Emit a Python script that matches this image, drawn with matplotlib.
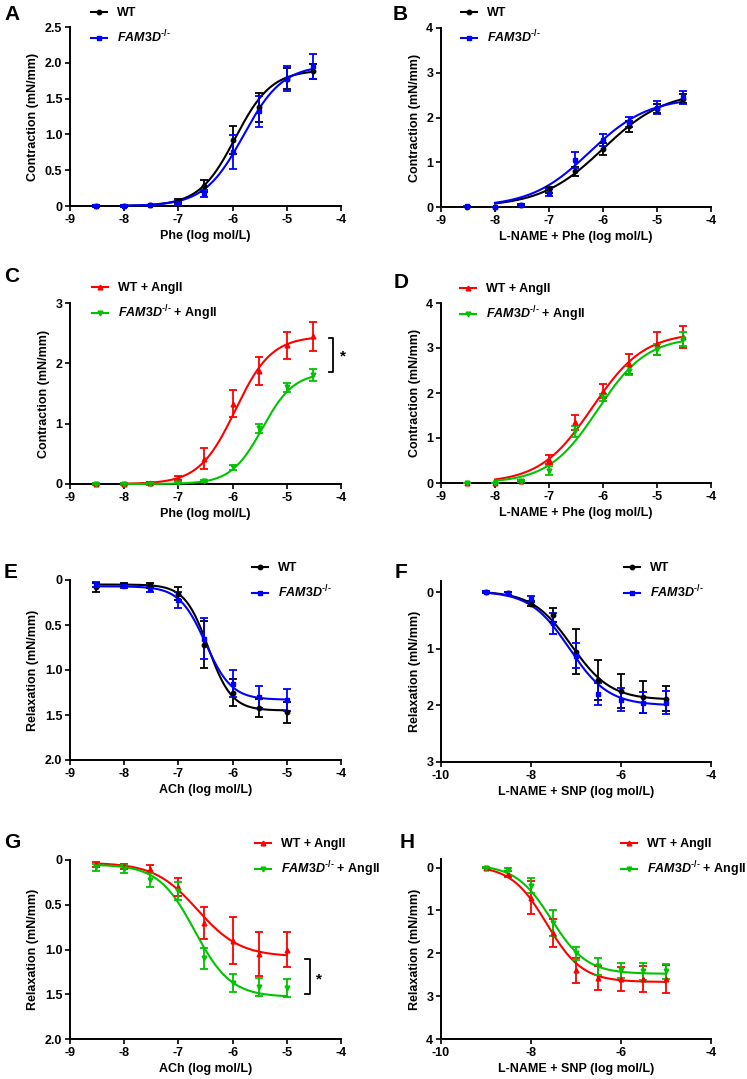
import numpy as np
import matplotlib
matplotlib.use("Agg")
import matplotlib.pyplot as plt
from matplotlib.lines import Line2D

plt.rcParams['font.family'] = ['Liberation Sans', 'DejaVu Sans']
plt.rcParams['font.weight'] = 'bold'
plt.rcParams['axes.labelweight'] = 'bold'
plt.rcParams['axes.unicode_minus'] = False
plt.rcParams['mathtext.fontset'] = 'custom'
plt.rcParams['mathtext.it'] = 'Liberation Sans:italic:bold'
plt.rcParams['mathtext.rm'] = 'Liberation Sans:bold'
plt.rcParams['mathtext.bf'] = 'Liberation Sans:bold'

# doses (log mol/L)
x_phe = [-8.52, -8, -7.52, -7, -6.52, -6, -5.52, -5, -4.52]
x_ach = [-8.52, -8, -7.52, -7, -6.52, -6, -5.52, -5]
x_snp = [-9, -8.52, -8, -7.52, -7, -6.52, -6, -5.52, -5]

# A: Phe
a_wt = [0, 0, 0.01, 0.07, 0.28, 0.92, 1.38, 1.78, 1.88]
a_wt_err = [0.01, 0.01, 0.01, 0.03, 0.08, 0.2, 0.2, 0.15, 0.1]
a_ko = [0, 0, 0.01, 0.04, 0.17, 0.75, 1.32, 1.78, 1.95]
a_ko_err = [0.01, 0.01, 0.01, 0.03, 0.05, 0.24, 0.22, 0.17, 0.17]
# B: L-NAME + Phe
b_wt = [0, 0, 0.05, 0.38, 0.8, 1.3, 1.8, 2.2, 2.42]
b_wt_err = [0.01, 0.01, 0.02, 0.07, 0.1, 0.13, 0.12, 0.1, 0.1]
b_ko = [0.02, 0, 0.05, 0.32, 1.05, 1.5, 1.9, 2.22, 2.45]
b_ko_err = [0.01, 0.01, 0.02, 0.08, 0.17, 0.13, 0.12, 0.15, 0.15]
# C: Phe, AngII
c_wt = [0, 0, 0.02, 0.1, 0.42, 1.33, 1.87, 2.3, 2.45]
c_wt_err = [0.01, 0.01, 0.01, 0.03, 0.17, 0.22, 0.23, 0.22, 0.24]
c_ko = [0, 0, 0, 0.02, 0.05, 0.28, 0.92, 1.6, 1.8]
c_ko_err = [0.01, 0.01, 0.01, 0.01, 0.02, 0.04, 0.08, 0.07, 0.1]
# D: L-NAME + Phe, AngII
d_wt = [0, 0, 0.05, 0.52, 1.35, 2.05, 2.65, 3.1, 3.25]
d_wt_err = [0.01, 0.01, 0.02, 0.1, 0.17, 0.15, 0.22, 0.25, 0.25]
d_ko = [0, 0, 0.05, 0.27, 1.15, 1.9, 2.5, 2.97, 3.2]
d_ko_err = [0.01, 0.01, 0.02, 0.1, 0.12, 0.08, 0.1, 0.12, 0.15]
# E: ACh
e_wt = [0.08, 0.05, 0.06, 0.15, 0.72, 1.25, 1.42, 1.47]
e_wt_err = [0.05, 0.02, 0.03, 0.07, 0.26, 0.15, 0.1, 0.12]
e_ko = [0.05, 0.07, 0.1, 0.22, 0.65, 1.15, 1.3, 1.33]
e_ko_err = [0.03, 0.02, 0.03, 0.09, 0.23, 0.15, 0.12, 0.12]
# F: L-NAME + SNP
f_wt = [0, 0.02, 0.2, 0.4, 1.05, 1.55, 1.75, 1.85, 1.88]
f_wt_err = [0.02, 0.02, 0.05, 0.12, 0.4, 0.35, 0.3, 0.28, 0.22]
f_ko = [0, 0.02, 0.12, 0.55, 1.12, 1.8, 1.9, 1.95, 1.95]
f_ko_err = [0.02, 0.02, 0.05, 0.18, 0.22, 0.2, 0.2, 0.18, 0.2]
# G: ACh, AngII
g_wt = [0.05, 0.07, 0.1, 0.3, 0.7, 0.9, 1.05, 1.0]
g_wt_err = [0.03, 0.03, 0.04, 0.1, 0.18, 0.26, 0.25, 0.19]
g_ko = [0.08, 0.1, 0.22, 0.35, 1.1, 1.37, 1.42, 1.43]
g_ko_err = [0.04, 0.04, 0.08, 0.1, 0.12, 0.1, 0.1, 0.1]
# H: L-NAME + SNP, AngII
h_wt = [0, 0.15, 0.7, 1.52, 2.4, 2.58, 2.6, 2.6, 2.6]
h_wt_err = [0.02, 0.08, 0.38, 0.33, 0.3, 0.28, 0.28, 0.3, 0.32]
h_ko = [0, 0.05, 0.42, 1.3, 2.0, 2.3, 2.4, 2.42, 2.42]
h_ko_err = [0.02, 0.03, 0.17, 0.3, 0.15, 0.2, 0.18, 0.2, 0.17]

# fitted curves: bottom, top, logEC50, hill
fit_a = [[0, 1.9, -5.95, 1.3], [0, 1.97, -5.8, 1.2]]
fit_b = [[0, 2.6, -6.0, 0.75], [0, 2.45, -6.25, 0.8]]
fit_c = [[0, 2.45, -5.95, 1.3], [0, 1.85, -5.45, 1.5]]
fit_d = [[0, 3.35, -6.2, 0.9], [0, 3.25, -6.1, 0.95]]
fit_e = [[0.05, 1.45, -6.45, 2.0], [0.07, 1.33, -6.5, 1.8]]
fit_f = [[-0.02, 1.9, -7.1, 1.0], [-0.02, 2.0, -7.15, 1.0]]
fit_g = [[0.03, 1.08, -6.65, 1.1], [0.05, 1.53, -6.7, 1.3]]
fit_h = [[-0.05, 2.67, -7.65, 1.1], [-0.07, 2.48, -7.55, 1.1]]

W, H = 747, 1079
fig = plt.figure(figsize=(W / 100, H / 100), dpi=100)

KO = "$\\mathit{FAM3D}^{\\mathit{\u2010/\u2010}}$"
styles_ctrl = [("WT", "#000000", "o", 3.2), (KO, "#0000FF", "s", 3.2)]
styles_ang = [("WT + AngII", "#FF0000", "^", 3.4), (KO + " + AngII", "#00C400", "v", 3.4)]


def hill(x, p):
    x = np.asarray(x)
    return p[0] + (p[1] - p[0]) / (1 + 10 ** ((p[2] - x) * p[3]))


def px_axes(left, top, right, bottom):
    return fig.add_axes([left / W, 1 - bottom / H, (right - left) / W, (bottom - top) / H])


def panel(rect, letter, letter_xy, x, data, fits, styles, xlim, xticks, ylim, yticks,
          ylabel, xlabel, curve_lim, legend_xy, ylab_dec=True):
    ax = px_axes(*rect)
    xs = np.linspace(curve_lim[0], curve_lim[1], 300)
    handles = []
    for (y, err), p, (lab, col, mk, ms) in zip(data, fits, styles):
        ax.plot(xs, hill(xs, p), color=col, lw=1.5, clip_on=False, zorder=3)
        ax.errorbar(x, y, yerr=err, fmt=mk, color=col, ms=ms, elinewidth=1.3,
                    capsize=2.6, capthick=1.3, clip_on=False, zorder=4)
        handles.append(Line2D([0], [0], color=col, lw=1.5, marker=mk, ms=ms))
    ax.set_xlim(*xlim)
    ax.set_ylim(*ylim)
    ax.set_xticks(xticks)
    ax.set_xticklabels([str(t) for t in xticks])
    ax.set_yticks(yticks)
    if ylab_dec:
        ax.set_yticklabels(["0" if t == 0 else "%.1f" % t for t in yticks])
    else:
        ax.set_yticklabels(["%d" % t for t in yticks])
    for s in ["top", "right"]:
        ax.spines[s].set_visible(False)
    for s in ["left", "bottom"]:
        ax.spines[s].set_linewidth(1.4)
    ax.tick_params(width=1.2, length=3.5, labelsize=9, pad=2)
    for t in ax.get_xticklabels() + ax.get_yticklabels():
        t.set_fontweight("bold")
    ax.set_ylabel(ylabel, fontsize=9, labelpad=4)
    ax.set_xlabel(xlabel, fontsize=9, labelpad=3)
    ax.legend(handles, [s[0] for s in styles], loc="upper left",
              bbox_to_anchor=(legend_xy[0] / W, 1 - legend_xy[1] / H),
              bbox_transform=fig.transFigure, frameon=False,
              handlelength=1.3, handletextpad=0.8, labelspacing=0.75,
              borderpad=0, borderaxespad=0, prop={"weight": "bold", "size": 9})
    fig.text(letter_xy[0] / W, 1 - letter_xy[1] / H, letter, fontsize=15,
             fontweight="bold", va="center", ha="left")
    return ax


ylab_c = "Contraction (mN/mm)"
ylab_r = "Relaxation (mN/mm)"
xt9 = [-9, -8, -7, -6, -5, -4]
xt10 = [-10, -8, -6, -4]

panel((70, 27, 341, 206), "A", (4, 14), x_phe, [(a_wt, a_wt_err), (a_ko, a_ko_err)], fit_a,
      styles_ctrl, (-9, -4), xt9, (0, 2.5), [0, 0.5, 1.0, 1.5, 2.0, 2.5],
      ylab_c, "Phe (log mol/L)", (-8, -4.52), (91, 7))
panel((441, 28, 711, 207), "B", (393, 14), x_phe, [(b_wt, b_wt_err), (b_ko, b_ko_err)], fit_b,
      styles_ctrl, (-9, -4), xt9, (0, 4), [0, 1, 2, 3, 4],
      ylab_c, "L-NAME + Phe (log mol/L)", (-8, -4.52), (461, 7), ylab_dec=False)
axc = panel((70, 303, 341, 484), "C", (4, 277), x_phe, [(c_wt, c_wt_err), (c_ko, c_ko_err)], fit_c,
            styles_ang, (-9, -4), xt9, (0, 3), [0, 1, 2, 3],
            ylab_c, "Phe (log mol/L)", (-8, -4.52), (92, 282), ylab_dec=False)
panel((441, 303, 711, 483), "D", (394, 282), x_phe, [(d_wt, d_wt_err), (d_ko, d_ko_err)], fit_d,
      styles_ang, (-9, -4), xt9, (0, 4), [0, 1, 2, 3, 4],
      ylab_c, "L-NAME + Phe (log mol/L)", (-8, -4.52), (460, 283), ylab_dec=False)
panel((70, 580, 341, 760), "E", (4, 572), x_ach, [(e_wt, e_wt_err), (e_ko, e_ko_err)], fit_e,
      styles_ctrl, (-9, -4), xt9, (2.0, 0), [0, 0.5, 1.0, 1.5, 2.0],
      ylab_r, "ACh (log mol/L)", (-8.52, -5), (252, 562))
panel((441, 581, 711, 762), "F", (395, 572), x_snp, [(f_wt, f_wt_err), (f_ko, f_ko_err)], fit_f,
      styles_ctrl, (-10, -4), xt10, (3, -0.2), [0, 1, 2, 3],
      ylab_r, "L-NAME + SNP (log mol/L)", (-9, -5), (624, 562), ylab_dec=False)
axg = panel((70, 860, 341, 1039), "G", (4, 843), x_ach, [(g_wt, g_wt_err), (g_ko, g_ko_err)], fit_g,
            styles_ang, (-9, -4), xt9, (2.0, 0), [0, 0.5, 1.0, 1.5, 2.0],
            ylab_r, "ACh (log mol/L)", (-8.52, -5), (255, 838))
panel((441, 859, 711, 1039), "H", (400, 842), x_snp, [(h_wt, h_wt_err), (h_ko, h_ko_err)], fit_h,
      styles_ang, (-10, -4), xt10, (4, -0.2), [0, 1, 2, 3, 4],
      ylab_r, "L-NAME + SNP (log mol/L)", (-9, -5), (621, 838), ylab_dec=False)

# significance brackets
axc.plot([-4.22, -4.14, -4.14, -4.22], [2.42, 2.42, 1.86, 1.86], color="black", lw=1.3, clip_on=False)
axc.text(-3.97, 2.12, "*", fontsize=11, fontweight="bold", ha="center", va="center", clip_on=False)
axg.plot([-4.66, -4.57, -4.57, -4.66], [1.11, 1.11, 1.5, 1.5], color="black", lw=1.3, clip_on=False)
axg.text(-4.41, 1.34, "*", fontsize=11, fontweight="bold", ha="center", va="center", clip_on=False)

fig.savefig("out.png", dpi=100)
